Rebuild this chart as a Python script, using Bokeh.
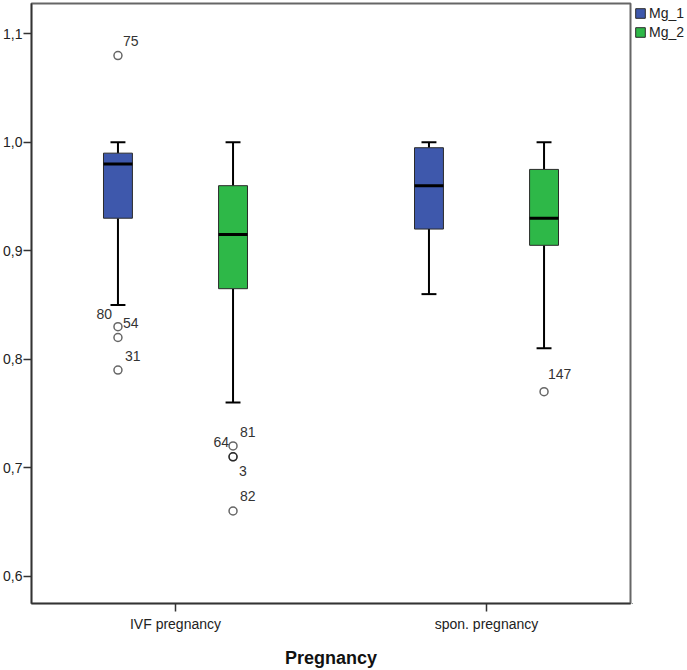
from bokeh.plotting import figure
from bokeh.layouts import row
from bokeh.models import (Range1d, FixedTicker, Legend, LegendItem, ColumnDataSource)
from bokeh.core.properties import value
from bokeh.embed import file_html
from bokeh.resources import INLINE

# ---------------- data ----------------
categories = ["IVF pregnancy", "spon. pregnancy"]
series = ["Mg_1", "Mg_2"]

mg1_low = [0.85, 0.86]
mg1_q1 = [0.93, 0.92]
mg1_median = [0.98, 0.96]
mg1_q3 = [0.99, 0.995]
mg1_high = [1.00, 1.00]

mg2_low = [0.76, 0.81]
mg2_q1 = [0.865, 0.905]
mg2_median = [0.915, 0.93]
mg2_q3 = [0.96, 0.975]
mg2_high = [1.00, 1.00]

out_group = [0, 0, 0, 0, 0, 0, 0, 0, 1]
out_series = ["Mg_1", "Mg_1", "Mg_1", "Mg_1", "Mg_2", "Mg_2", "Mg_2", "Mg_2", "Mg_2"]
out_value = [1.08, 0.83, 0.82, 0.79, 0.72, 0.71, 0.71, 0.66, 0.77]
out_case = ["75", "80", "54", "31", "81", "64", "3", "82", "147"]

y_ticks = [0.6, 0.7, 0.8, 0.9, 1.0, 1.1]
y_tick_labels = ["0,6", "0,7", "0,8", "0,9", "1,0", "1,1"]

# ---------------- styles ----------------
colors = {"Mg_1": "#3E58AC", "Mg_2": "#2EB848"}
offsets = {"Mg_1": -0.185, "Mg_2": 0.185}
box_w = 0.093
cap_w = 0.048
lab_align = ["left", "right", "left", "left", "left", "right", "left", "left", "left"]
lab_dx = [5, -6, 5, 7, 7, -4, 6, 7, 4]
lab_dy = [-15, -13, -14, -14, -14, -15, 14, -15, -18]
FONT = "Liberation Sans"

p = figure(width=632, height=670,
           x_range=Range1d(-0.463, 1.463), y_range=Range1d(0.5747, 1.128),
           output_backend="svg", toolbar_location=None,
           min_border_left=31, min_border_right=2, min_border_top=3,
           min_border_bottom=65)
p.grid.visible = False
p.outline_line_color = "#666666"
p.outline_line_width = 2
p.background_fill_color = "white"
p.border_fill_color = "white"

stats = {
    "Mg_1": (mg1_low, mg1_q1, mg1_median, mg1_q3, mg1_high),
    "Mg_2": (mg2_low, mg2_q1, mg2_median, mg2_q3, mg2_high),
}
for s in series:
    low, q1, med, q3, high = stats[s]
    xs = [i + offsets[s] for i in range(len(categories))]
    p.segment(x0=xs, y0=q3, x1=xs, y1=high, line_color="black", line_width=2)
    p.segment(x0=xs, y0=q1, x1=xs, y1=low, line_color="black", line_width=2)
    p.segment(x0=[x - cap_w / 2 for x in xs], y0=high, x1=[x + cap_w / 2 for x in xs], y1=high,
              line_color="black", line_width=2)
    p.segment(x0=[x - cap_w / 2 for x in xs], y0=low, x1=[x + cap_w / 2 for x in xs], y1=low,
              line_color="black", line_width=2)
    p.vbar(x=xs, width=box_w, top=q3, bottom=q1, fill_color=colors[s],
           line_color="#2a2a2a", line_width=1)
    p.segment(x0=[x - box_w / 2 for x in xs], y0=med, x1=[x + box_w / 2 for x in xs], y1=med,
              line_color="black", line_width=3)

ox = [g + offsets[s] for g, s in zip(out_group, out_series)]
src = ColumnDataSource(dict(x=ox, y=out_value, t=out_case, a=lab_align, dx=lab_dx, dy=lab_dy))
p.scatter(x="x", y="y", source=src, marker="circle", size=8, fill_color=None,
          line_color="black", line_alpha=0.6, line_width=1.5)
p.text(x="x", y="y", text="t", source=src, text_align="a", x_offset="dx", y_offset="dy",
       text_baseline="alphabetic", text_font=value(FONT), text_font_size="14px",
       text_color="#333333")

# axes
p.xaxis.ticker = FixedTicker(ticks=list(range(len(categories))))
p.xaxis.major_label_overrides = {i: c for i, c in enumerate(categories)}
p.xaxis.minor_tick_line_color = None
p.xaxis.major_tick_out = 8
p.xaxis.major_tick_in = 0
p.xaxis.major_label_standoff = 4
p.xaxis.axis_label = "Pregnancy"
p.xaxis.axis_label_text_font = FONT
p.xaxis.axis_label_text_font_size = "18px"
p.xaxis.axis_label_text_font_style = "bold"
p.xaxis.axis_label_text_color = "#111111"
p.xaxis.axis_label_standoff = 13

p.yaxis.ticker = FixedTicker(ticks=y_ticks)
p.yaxis.major_label_overrides = {t: l for t, l in zip(y_ticks, y_tick_labels)}
p.yaxis.minor_tick_line_color = None
p.yaxis.major_tick_out = 8
p.yaxis.major_tick_in = 0
p.yaxis.major_label_standoff = 1

for ax in (p.xaxis, p.yaxis):
    ax.axis_line_color = "#333333"
    ax.axis_line_width = 1.5
    ax.major_tick_line_color = "#333333"
    ax.major_tick_line_width = 1.5
    ax.major_label_text_font = FONT
    ax.major_label_text_font_size = "14px"
    ax.major_label_text_color = "#222222"

# legend panel (separate small figure to the right of the frame)
lg = figure(width=55, height=670, x_range=Range1d(0, 1), y_range=Range1d(0, 1),
            output_backend="svg", toolbar_location=None,
            min_border_left=0, min_border_right=0, min_border_top=0, min_border_bottom=0)
lg.axis.visible = False
lg.grid.visible = False
lg.outline_line_color = None
items = []
for s in series:
    # placeholder renderer lying outside the visible range; only its style feeds the legend swatch
    r = lg.vbar(x=[-10], top=[-10], bottom=[-11], width=0.1, fill_color=colors[s],
                line_color="#2a2a2a", line_width=1)
    items.append(LegendItem(label=s, renderers=[r]))
legend = Legend(items=items, location="top_left", orientation="vertical",
                glyph_width=12, glyph_height=12, label_height=16, spacing=3,
                padding=0, margin=2, label_standoff=3,
                border_line_color=None, background_fill_alpha=0,
                label_text_font=FONT, label_text_font_size="14px", label_text_color="#222222")
lg.add_layout(legend)

layout = row(p, lg)
layout.styles = {"position": "absolute", "left": "0px", "top": "0px"}

open("out.html", "w").write(file_html(layout, INLINE))
